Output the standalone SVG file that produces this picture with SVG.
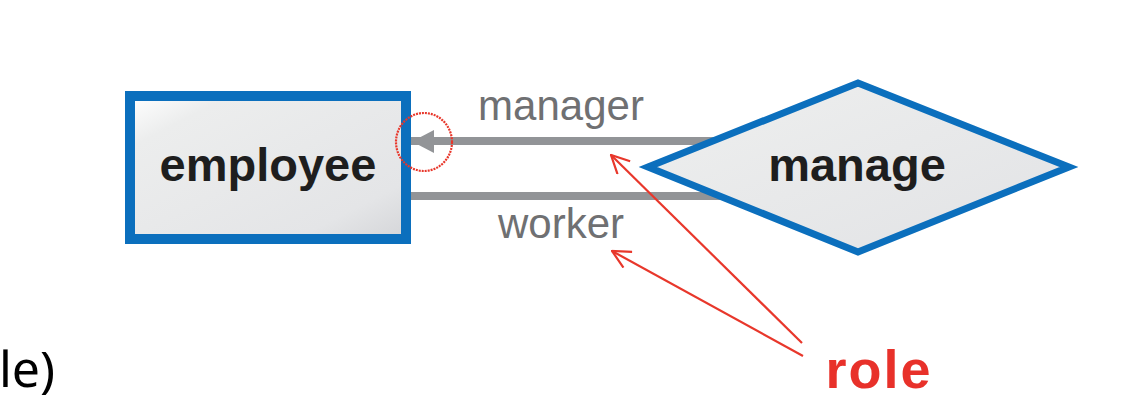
<svg xmlns="http://www.w3.org/2000/svg" width="1124" height="408" viewBox="0 0 1124 408">
  <defs>
    <linearGradient id="fillGrad" x1="0" y1="0" x2="1" y2="1">
      <stop offset="0" stop-color="#ffffff"/>
      <stop offset="0.18" stop-color="#eceded"/>
      <stop offset="0.8" stop-color="#e4e5e7"/>
      <stop offset="1" stop-color="#d4d5d8"/>
    </linearGradient>
    <marker id="redArrow" viewBox="0 0 20 20" refX="19" refY="10" markerWidth="20" markerHeight="20" markerUnits="userSpaceOnUse" orient="auto">
      <path d="M1,1 L19,10 L1,19" fill="none" stroke="#e8372b" stroke-width="2.2"/>
    </marker>
    <style>
      .entity { fill: url(#fillGrad); stroke: #0b6fbd; stroke-width: 10; }
      .rel { fill: url(#fillGrad); stroke: #0b6fbd; stroke-width: 7; stroke-linejoin: miter; }
      .nodeText { font-family: "Liberation Sans", Arial, sans-serif; font-weight: bold; font-size: 47px; fill: #1e1e1e; text-anchor: middle; }
      .roleText { font-family: "Liberation Sans", Arial, sans-serif; font-size: 42px; fill: #6f7072; text-anchor: middle; }
      .conn { stroke: #929497; stroke-width: 8; fill: none; }
      .red { stroke: #e8372b; stroke-width: 2.2; fill: none; }
    </style>
  </defs>
  <rect width="1124" height="408" fill="#ffffff"/>

  <g id="connectors">
    <line class="conn" x1="411" y1="141" x2="740" y2="141"/>
    <line class="conn" x1="411" y1="196" x2="740" y2="196"/>
    <polygon points="412,141.5 434,130 434,153" fill="#929497"/>
  </g>

  <g id="employee">
    <rect class="entity" x="130" y="96" width="276" height="143"/>
    <text class="nodeText" x="268" y="181">employee</text>
  </g>

  <g id="manage">
    <polygon class="rel" points="648,167 858,83 1069,167 858,252"/>
    <text class="nodeText" x="857" y="181">manage</text>
  </g>

  <g id="role-labels">
    <text class="roleText" x="561" y="120">manager</text>
    <text class="roleText" x="561" y="238">worker</text>
  </g>

  <g id="annotations">
    <ellipse class="red" cx="424" cy="142" rx="28" ry="29" stroke-dasharray="2 1"/>
    <line class="red" x1="802" y1="343" x2="611" y2="155" marker-end="url(#redArrow)"/>
    <line class="red" x1="803" y1="356" x2="612" y2="251" marker-end="url(#redArrow)"/>
    <text x="879" y="388" font-family="Liberation Sans, Arial, sans-serif" font-weight="bold" font-size="54" letter-spacing="2" fill="#e8312a" text-anchor="middle">role</text>
    <text x="55" y="387" font-family="Noto Sans, sans-serif" font-size="50" fill="#000000" text-anchor="end">le)</text>
  </g>
</svg>
